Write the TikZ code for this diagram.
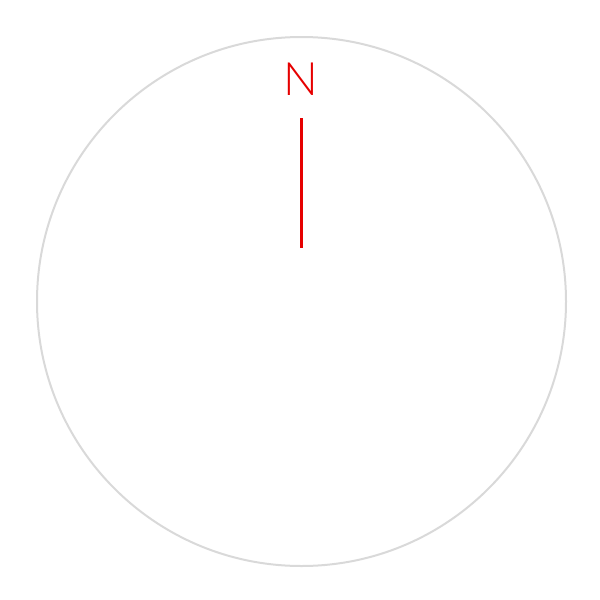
\documentclass[tikz,border=0pt]{standalone}
\usepackage{fontspec}
\newfontfamily\thinfont{Lato Light}
\definecolor{ringgray}{RGB}{217,217,217}
\definecolor{needlered}{RGB}{230,0,0}
\begin{document}
\begin{tikzpicture}[x=1pt,y=-1pt,
  ring/.style={draw=ringgray,line width=2pt},
  needle/.style={draw=needlered,line width=3pt},
  northlabel/.style={text=needlered,font=\thinfont\fontsize{46}{46}\selectfont,inner sep=0pt,anchor=base}]
\useasboundingbox (0,0) rectangle (600,600);
\node[ring,circle,minimum size=529pt,inner sep=0pt] (dial) at (301.5,301.5) {};
\node[northlabel] (n) at (301,95) {N};
\coordinate (ntop) at (301,118);
\coordinate (nbot) at (301,248);
\draw[needle] (ntop) -- (nbot);
\end{tikzpicture}
\end{document}
